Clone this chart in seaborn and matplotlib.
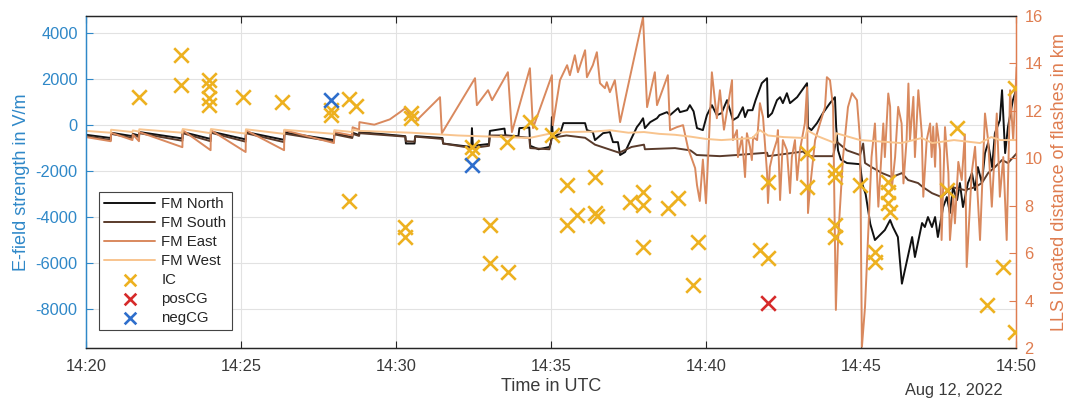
import numpy as np
import pandas as pd
import matplotlib
matplotlib.use("Agg")
import matplotlib.pyplot as plt
import matplotlib.dates as mdates
import seaborn as sns

# ---------------- data (minutes after 14:20 UTC, 12 Aug 2022) ----------------
north_t = [0.00, 0.80, 0.81, 1.50, 1.51, 1.71, 1.72, 3.11, 3.12, 4.02, 4.03, 5.15, 5.16, 6.39, 6.40,
           8.00, 8.01, 8.59, 8.60, 8.81, 8.82, 10.30, 10.32, 10.60, 10.62, 11.50, 11.52, 12.43, 12.45,
           12.48, 13.00, 13.03, 13.50, 13.53, 13.95, 13.98, 14.30, 14.33, 14.60, 14.95, 15.00, 15.03,
           15.06, 15.30, 15.40, 16.10, 16.16, 16.35, 16.42, 16.68, 16.90, 17.00, 17.16, 17.23, 17.39,
           17.60, 17.77, 17.87, 17.97, 18.03, 18.20, 18.42, 18.50, 18.74, 18.84, 19.10, 19.16, 19.39,
           19.48, 19.60, 19.71, 19.90, 20.03, 20.19, 20.35, 20.50, 20.68, 20.87, 21.03, 21.19, 21.26,
           21.35, 21.50, 21.60, 21.80, 21.97, 22.00, 22.13, 22.29, 22.39, 22.48, 22.61, 22.71, 22.94,
           23.26, 23.29, 23.40, 23.58, 23.77, 24.00, 24.16, 24.20, 24.26, 24.35, 24.55, 24.97, 25.05,
           25.15, 25.30, 25.45, 25.77, 25.94, 26.03, 26.19, 26.32, 26.65, 26.74, 26.97, 27.06, 27.16,
           27.29, 27.39, 27.48, 27.65, 27.77, 27.87, 27.97, 28.10, 28.19, 28.29, 28.45, 28.58, 28.68,
           28.77, 28.90, 29.00, 29.10, 29.23, 29.32, 29.48, 29.55, 29.65, 29.74, 29.90, 30.03]
north_v = [-420, -560, -330, -480, -380, -450, -300, -580, -300, -600, -280, -620, -300, -640, -320,
           -650, -350, -520, -330, -430, -300, -480, -800, -800, -480, -560, -800, -950, -130,
           -900, -820, -250, -150, -450, -480, -130, -100, -900, -1050, -950, -750, 350,
           -550, -350, 87, 87, -217, -300, -650, -350, -300, -740, -740, -1300, -1170,
           -565, -87, 87, 300, -130, 130, 300, 435, 565, 435, 740, 565, 650,
           870, 600, -130, -217, 435, 870, 435, 520, 1087, 217, 350, 780, 350,
           650, 650, 1087, 1826, 2043, 350, 520, 1087, 1217, 957, 1390, 957, 1217,
           1826, -87, -217, 87, 520, 957, 1217, -87, -1100, -1500, -1650, -1700, -2600,
           -3000, -4300, -5000, -4565, -4130, -4435, -4870, -6900, -4870, -5740, -4260, -4435, -4000,
           -4435, -4000, -4870, -3565, -3130, -3826, -2696, -3260, -2520, -3565, -2520, -2087, -2826,
           -1826, -2520, -1217, -780, -1826, -350, 217, 1520, -1217, -87, 1087, 1650]

south_t = [0.00, 0.80, 0.81, 1.50, 1.51, 1.71, 1.72, 3.11, 3.12, 4.02, 4.03, 5.15, 5.16, 6.39, 6.40,
           8.00, 8.01, 8.59, 8.60, 8.81, 8.82, 10.30, 10.32, 10.60, 10.62, 11.50, 11.52, 12.45, 13.00,
           13.03, 13.50, 14.30, 14.33, 14.95, 15.03, 15.50, 16.10, 16.42, 17.20, 17.60, 18.00, 18.03,
           19.00, 19.50, 19.70, 20.45, 21.00, 21.97, 22.00, 23.13, 23.30, 24.10, 24.20, 24.55, 24.97,
           25.07, 25.13, 25.34, 25.68, 26.00, 26.32, 26.52, 26.84, 27.00, 27.29, 27.60, 27.94, 28.35,
           28.68, 28.90, 29.10, 29.32, 29.55, 29.74, 30.03]
south_v = [-480, -650, -380, -560, -420, -520, -350, -680, -350, -700, -330, -720, -350, -740, -370,
           -720, -400, -560, -380, -470, -350, -500, -700, -720, -500, -600, -800, -1000, -900,
           -450, -450, -550, -1000, -1050, -550, -450, -550, -850, -1200, -950, -850, -1050,
           -1000, -1100, -1300, -1350, -1300, -1200, -1350, -1150, -1350, -1350, -700, -1100, -1300,
           -800, -1650, -1826, -2087, -2260, -2087, -2390, -2520, -2700, -2960, -3130, -2700, -2826,
           -2700, -2520, -2087, -1826, -1520, -1650, -1217]

east_t = [0.00, 0.80, 0.81, 1.50, 1.51, 1.71, 1.72, 3.11, 3.12, 4.02, 4.03, 5.15, 5.16, 6.39, 6.40,
          8.00, 8.01, 8.59, 8.60, 8.81, 8.82, 9.30, 9.80, 10.13, 10.30, 10.61, 11.42, 11.48, 12.55,
          12.61, 12.97, 13.10, 13.61, 13.74, 14.32, 14.42, 15.03, 15.06, 15.29, 15.52, 15.61, 15.77,
          15.87, 16.10, 16.16, 16.35, 16.48, 16.58, 16.74, 16.80, 16.90, 17.06, 17.23, 17.61, 17.97,
          18.10, 18.35, 18.42, 18.77, 18.84, 19.06, 19.26, 19.42, 19.65, 19.71, 19.80, 19.90, 20.00,
          20.10, 20.19, 20.35, 20.45, 20.58, 20.84, 20.87, 21.00, 21.03, 21.16, 21.26, 21.32, 21.42,
          21.48, 21.52, 21.65, 21.74, 21.84, 21.97, 22.00, 22.06, 22.16, 22.29, 22.32, 22.39, 22.48,
          22.61, 22.71, 22.77, 22.87, 22.94, 23.03, 23.19, 23.26, 23.29, 23.35, 23.52, 23.68, 23.84,
          23.90, 24.00, 24.10, 24.16, 24.19, 24.26, 24.42, 24.58, 24.71, 24.87, 24.97, 25.03, 25.13,
          25.34, 25.45, 25.56, 25.72, 25.77, 25.88, 25.94, 25.99, 26.10, 26.20, 26.31, 26.37, 26.47,
          26.53, 26.58, 26.69, 26.74, 26.85, 26.96, 27.01, 27.12, 27.23, 27.28, 27.33, 27.39, 27.44,
          27.55, 27.60, 27.71, 27.82, 27.87, 27.98, 28.03, 28.14, 28.25, 28.35, 28.41, 28.57, 28.68,
          28.84, 29.00, 29.10, 29.22, 29.38, 29.48, 29.59, 29.70, 29.81, 29.91, 30.02]
east_v = [-520, -700, -330, -650, -400, -700, -300, -960, -220, -1090, -220, -1170, -220, -1090, -220,
          -780, -300, -450, -90, -200, 130, 20, 250, 565, 740, 130, 1217, -350, 2043,
          870, 1520, 1087, 2304, -304, 2478, -130, 2174, 0, 1957, 2609, 2174, 3043,
          2304, 3260, 2087, 2609, 3174, 1826, 1609, 1870, 1435, 1957, 130, 2478, 4696,
          783, 2304, 870, 2174, -217, -87, 0, -1000, -1870, -2609, -3300, -1500, -3400,
          -500, 2300, 300, 1520, -200, 1957, -650, -217, -1390, -520, -2260, -350, -950,
          -1520, -520, -650, 957, 350, -2087, -3390, -1826, -1217, -650, -217, -3260, -650,
          -1087, -2957, -1390, -650, -2390, -1087, 87, 1650, -3826, -2826, -650, 87, 783,
          2087, 1957, 783, -5000, -8043, -5000, -1390, 783, 1390, 1087, -650, -9650, -7913,
          -1391, 72, -3550, 72, -1391, 1377, 797, -2826, -1391, 797, 72, -2536, -652,
          1810, -652, 1230, -1391, 1520, -362, -3116, -652, 72, -1391, -72, -1812, 72,
          -1087, -5000, -87, -2100, -5000, -3100, -4275, -1600, -2391, -400, -6174, -2100, -942,
          -5000, 507, -652, -3550, 507, -3116, -1391, -5000, 1520, -652, 2522]

west_t = [0.00, 0.80, 0.81, 1.50, 1.51, 1.71, 1.72, 3.11, 3.12, 4.02, 4.03, 5.15, 5.16, 6.39, 6.40,
          8.00, 8.01, 8.59, 8.60, 8.82, 10.50, 12.00, 13.50, 14.30, 15.03, 15.50, 16.40, 16.90,
          17.50, 18.00, 18.50, 19.00, 19.50, 20.00, 20.50, 21.50, 21.74, 22.00, 22.50, 23.20, 23.26,
          23.60, 24.16, 24.20, 24.97, 25.50, 26.30, 26.96, 27.30, 28.00, 28.84, 29.20, 29.50, 30.03]
west_v = [-250, -330, -200, -300, -230, -280, -180, -330, -170, -350, -170, -370, -180, -380, -200,
          -380, -220, -300, -200, -250, -330, -450, -520, -560, -350, -300, -280, -220,
          -330, -300, -380, -420, -500, -600, -650, -560, -217, -450, -520, -560, -217,
          -480, -780, -350, -650, -700, -780, -560, -780, -650, -780, -520, -650, -650]

ic_t = [1.71, 3.06, 3.06, 3.97, 3.97, 3.97, 3.97, 5.06, 6.32, 7.90, 7.90, 8.48, 8.71, 8.48, 10.29,
        10.29, 10.48, 10.48, 12.45, 12.45, 13.03, 13.03, 13.61, 13.58, 14.32, 15.03, 15.52, 15.52,
        15.84, 16.42, 16.42, 16.48, 17.55, 17.97, 17.97, 17.97, 18.77, 19.10, 19.74, 19.58, 21.74,
        22.00, 22.00, 23.26, 23.26, 24.16, 24.16, 24.16, 24.16, 24.97, 25.88, 25.88, 25.88, 25.94,
        25.45, 25.45, 28.10, 27.77, 29.58, 29.06, 29.97, 29.97]
ic_km = [12.58, 14.36, 13.09, 13.30, 13.05, 12.54, 12.25, 12.58, 12.37, 12.04, 11.83, 12.50, 12.20,
         8.20, 7.10, 6.68, 11.91, 11.70, 10.48, 10.22, 7.19, 5.58, 5.20, 10.69, 11.53, 10.98, 8.87,
         7.19, 7.61, 9.21, 7.69, 7.57, 8.16, 8.58, 8.03, 6.26, 7.90, 8.33, 6.47, 4.66, 6.13, 5.79,
         9.00, 10.22, 8.79, 9.50, 9.20, 7.19, 6.68, 8.87, 9.00, 8.58, 8.12, 7.74, 6.05, 5.63, 11.28,
         8.66, 5.42, 3.81, 2.67, 12.96]
pos_t = [22.00]
pos_km = [3.90]
neg_t = [7.90, 12.45]
neg_km = [12.46, 9.72]

# ---------------- style ----------------
sns.set_style("white")
plt.rcParams["font.family"] = ["Liberation Sans", "DejaVu Sans"]
plt.rcParams["axes.unicode_minus"] = False

BLUE_AX = "#2F88C8"
ORANGE_AX = "#DF7D50"
C_NORTH, C_SOUTH, C_EAST, C_WEST = "#111111", "#5A3B2B", "#D9895E", "#F8C48E"
C_IC, C_POS, C_NEG = "#EDB120", "#D62A2A", "#2E6ECC"
TXT = "#3a3a3a"

base = pd.Timestamp("2022-08-12 14:20:00")


def to_time(mins):
    return base + pd.to_timedelta(np.asarray(mins, dtype=float), unit="m")


fig = plt.figure(figsize=(10.68, 3.98), dpi=100)
ax = fig.add_axes([0.0805, 0.1256, 0.8708, 0.8342])
ax2 = ax.twinx()

for name, t, v, c in [("FM North", north_t, north_v, C_NORTH),
                      ("FM South", south_t, south_v, C_SOUTH),
                      ("FM East", east_t, east_v, C_EAST),
                      ("FM West", west_t, west_v, C_WEST)]:
    df = pd.DataFrame({"time": to_time(t), "E": v})
    sns.lineplot(data=df, x="time", y="E", ax=ax, color=c, lw=1.4,
                 estimator=None, sort=False, label=name)

for name, t, k, c in [("IC", ic_t, ic_km, C_IC),
                      ("posCG", pos_t, pos_km, C_POS),
                      ("negCG", neg_t, neg_km, C_NEG)]:
    df = pd.DataFrame({"time": to_time(t), "km": k})
    sns.scatterplot(data=df, x="time", y="km", ax=ax2, marker="x", s=110,
                    color=c, linewidth=1.9, label=name, zorder=3)

# axes limits / ticks
ax.set_xlim(base, base + pd.Timedelta(minutes=30))
ax.set_ylim(-9700, 4750)
ax2.set_ylim(2, 16)
ax.set_yticks([-8000, -6000, -4000, -2000, 0, 2000, 4000])
ax2.set_yticks([2, 4, 6, 8, 10, 12, 14, 16])
ax.xaxis.set_major_locator(mdates.MinuteLocator(byminute=range(0, 60, 5)))
ax.xaxis.set_major_formatter(mdates.DateFormatter("%H:%M"))

ax.grid(True, color="#e2e2e2", lw=0.8)
ax.set_axisbelow(True)

ax.tick_params(axis="x", direction="in", top=True, bottom=True, length=5, width=0.8,
               color="#262626", labelcolor=TXT, labelsize=11.8, pad=8)
ax.tick_params(axis="y", direction="in", length=5, width=0.8, color=BLUE_AX,
               labelcolor=BLUE_AX, labelsize=11.8, pad=6)
ax2.tick_params(axis="y", direction="in", length=5, width=0.8, color=ORANGE_AX,
                labelcolor=ORANGE_AX, labelsize=11.8, pad=6)

for a in (ax, ax2):
    a.spines["top"].set_color("#262626")
    a.spines["bottom"].set_color("#262626")
    a.spines["left"].set_color(BLUE_AX)
    a.spines["right"].set_color(ORANGE_AX)
    for s in a.spines.values():
        s.set_linewidth(0.9)

ax.set_xlabel("Time in UTC", fontsize=13, color=TXT, labelpad=3)
ax.set_ylabel("E-field strength in V/m", fontsize=13, color=BLUE_AX, labelpad=4)
ax2.set_ylabel("LLS located distance of flashes in km", fontsize=13, color=ORANGE_AX, labelpad=6)

fig.text(1003 / 1068, 1 - 390 / 398, "Aug 12, 2022", ha="right", va="center",
         fontsize=11.8, color=TXT)

# combined legend
h1, l1 = ax.get_legend_handles_labels()
h2, l2 = ax2.get_legend_handles_labels()
if ax.get_legend() is not None:
    ax.get_legend().remove()
if ax2.get_legend() is not None:
    ax2.get_legend().remove()
leg = ax2.legend(h1 + h2, l1 + l2, loc="lower left", bbox_to_anchor=(0.014, 0.054),
                 borderaxespad=0, fontsize=10.8, handlelength=3.4, handletextpad=0.4,
                 labelspacing=0.33, borderpad=0.35, fancybox=False, framealpha=1,
                 edgecolor="#444444", markerscale=0.8)
leg.get_frame().set_linewidth(0.8)
for txt in leg.get_texts():
    txt.set_color("#262626")

fig.savefig("out.png", dpi=100)
